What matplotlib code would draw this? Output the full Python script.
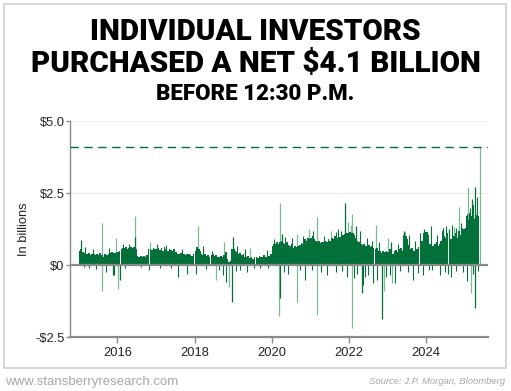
import matplotlib
matplotlib.use("Agg")
import matplotlib.pyplot as plt
import pandas as pd

# ---------------- data (in billions of USD) ----------------
# semi-monthly typical level of net retail purchases before 12:30 p.m.
body_2015 = [0.50, 0.55, 0.45, 0.42, 0.40, 0.38, 0.42, 0.36, 0.40, 0.38, 0.35, 0.40,
             0.37, 0.42, 0.36, 0.30, 0.38, 0.35, 0.40, 0.42, 0.45, 0.44, 0.42, 0.45]
body_2016 = [0.45, 0.50, 0.55, 0.60, 0.58, 0.62, 0.55, 0.60, 0.63, 0.58, 0.62, 0.55,
             0.33, 0.30, 0.32, 0.28, 0.33, 0.30, 0.35, 0.55, 0.57, 0.52, 0.60, 0.55]
body_2017 = [0.55, 0.60, 0.52, 0.58, 0.50, 0.62, 0.55, 0.48, 0.57, 0.52, 0.50, 0.55,
             0.45, 0.40, 0.38, 0.42, 0.36, 0.40, 0.35, 0.38, 0.40, 0.36, 0.33, 0.38]
body_2018 = [0.50, 0.62, 0.55, 0.48, 0.40, 0.35, 0.38, 0.32, 0.36, 0.30, 0.34, 0.38,
             0.32, 0.35, 0.30, 0.28, 0.33, 0.30, 0.35, 0.45, 0.20, 0.10, 0.15, 0.55]
body_2019 = [0.55, 0.50, 0.45, 0.40, 0.42, 0.35, 0.38, 0.30, 0.28, 0.32, 0.25, 0.30,
             0.22, 0.28, 0.30, 0.25, 0.32, 0.28, 0.30, 0.35, 0.30, 0.34, 0.32, 0.38]
body_2020 = [0.65, 0.74, 0.75, 0.80, 0.72, 0.80, 0.85, 0.78, 0.75, 0.80, 0.70, 0.65,
             0.72, 0.60, 0.68, 0.62, 0.66, 0.70, 0.78, 0.72, 0.90, 0.85, 0.95, 0.92]
body_2021 = [0.95, 1.00, 0.90, 0.85, 0.80, 0.85, 0.78, 0.82, 0.80, 0.85, 0.80, 0.90,
             0.85, 0.95, 0.90, 1.00, 0.88, 0.95, 0.98, 1.00, 1.05, 1.08, 1.12, 1.10]
body_2022 = [1.15, 1.10, 1.12, 1.05, 0.95, 0.85, 0.80, 0.72, 0.70, 0.75, 0.65, 0.60,
             0.70, 0.62, 0.65, 0.60, 0.55, 0.58, 0.48, 0.50, 0.42, 0.48, 0.45, 0.50]
body_2023 = [0.45, 0.55, 0.50, 0.40, 0.48, 0.52, 0.45, 0.55, 0.60, 0.50, 1.05, 1.00,
             0.90, 0.70, 0.55, 0.60, 0.50, 0.58, 0.55, 0.62, 0.70, 0.85, 1.10, 1.15]
body_2024 = [1.15, 1.05, 0.75, 0.70, 0.65, 0.72, 0.80, 0.68, 0.75, 0.85, 1.20, 1.00,
             0.95, 1.10, 1.05, 0.90, 1.15, 1.00, 1.10, 0.95, 1.20, 1.05, 1.10, 1.25]
body_2025 = [1.30, 1.70, 1.55, 1.80, 1.70, 2.10, 1.60, 1.75, 1.70]

# individual daily spikes (date, value)
spikes_up_light = [("2015-08-12", 1.46), ("2015-12-20", 0.95), ("2016-06-20", 1.70),
                   ("2018-02-06", 1.36), ("2018-10-08", 0.80), ("2020-03-16", 2.16),
                   ("2020-08-28", 1.08), ("2021-03-08", 1.66), ("2021-07-20", 1.20),
                   ("2022-02-01", 1.77), ("2022-09-12", 1.39), ("2023-06-12", 1.16),
                   ("2024-01-10", 1.20), ("2024-09-24", 1.31), ("2024-11-12", 2.03),
                   ("2025-02-05", 2.72), ("2025-05-27", 4.10), ("2016-11-10", 0.80),
                   ("2019-06-10", 0.60), ("2020-12-20", 1.25), ("2021-12-28", 1.50),
                   ("2022-01-18", 1.40), ("2023-01-10", 0.95)]
spikes_up_dark = [("2015-01-20", 0.88), ("2016-06-18", 0.97), ("2018-12-28", 0.97),
                  ("2020-04-05", 1.08), ("2021-10-20", 1.20), ("2021-11-25", 2.15),
                  ("2022-03-10", 1.37), ("2023-02-01", 0.82), ("2023-06-10", 1.20),
                  ("2023-12-15", 1.25), ("2024-06-14", 1.28), ("2024-08-05", 1.25),
                  ("2024-10-10", 1.30), ("2024-12-10", 1.30), ("2025-01-25", 1.77),
                  ("2025-03-10", 2.28), ("2025-04-08", 2.72)]
# daily highs poking above the typical level
texture_up = [("2015-03-05", 0.62), ("2015-05-20", 0.55), ("2015-10-10", 0.58),
              ("2016-02-20", 0.75), ("2016-04-25", 0.72), ("2017-01-15", 0.72),
              ("2017-04-10", 0.70), ("2017-09-05", 0.55), ("2018-03-20", 0.65),
              ("2018-06-15", 0.50), ("2019-02-10", 0.68), ("2019-04-20", 0.55),
              ("2019-11-15", 0.52), ("2020-01-20", 0.90), ("2020-05-10", 0.98),
              ("2020-07-15", 0.95), ("2020-10-20", 1.00), ("2021-01-25", 1.20),
              ("2021-05-15", 1.00), ("2021-08-30", 1.15), ("2021-09-20", 1.25),
              ("2022-04-15", 1.20), ("2022-06-20", 0.95), ("2022-08-05", 0.85),
              ("2022-10-15", 0.80), ("2023-04-10", 0.75), ("2023-07-20", 1.05),
              ("2023-09-15", 0.85), ("2023-11-01", 1.10), ("2024-02-15", 1.35),
              ("2024-04-15", 1.05), ("2024-07-10", 1.35), ("2024-09-05", 1.40),
              ("2024-11-25", 1.45), ("2025-02-20", 2.00), ("2025-04-25", 2.35)]
spikes_down_light = [("2015-08-12", -0.91), ("2016-01-05", -0.82), ("2018-07-20", -0.51),
                     ("2018-11-25", -0.74), ("2020-03-12", -1.77), ("2020-08-28", -1.26),
                     ("2021-03-08", -1.71), ("2022-01-28", -2.19), ("2022-11-25", -0.91),
                     ("2023-02-15", -0.63), ("2025-02-28", -0.97)]
spikes_down_dark = [("2015-11-20", -0.34), ("2016-01-25", -0.50), ("2018-12-20", -1.26),
                    ("2020-03-20", -1.14), ("2022-05-02", -0.97), ("2022-11-15", -1.88),
                    ("2025-04-10", -1.48)]
small_neg = [("2015-04-10", -0.10), ("2015-06-15", -0.12), ("2015-09-20", -0.23),
             ("2015-12-01", -0.34), ("2016-03-15", -0.08), ("2016-10-30", -0.17),
             ("2017-02-10", -0.10), ("2017-07-30", -0.40), ("2017-10-20", -0.29),
             ("2018-01-15", -0.29), ("2018-04-20", -0.12), ("2018-09-30", -0.34),
             ("2018-10-30", -0.57), ("2019-03-08", -0.17), ("2019-05-08", -0.23),
             ("2019-09-12", -0.11), ("2019-12-01", -0.08), ("2020-06-05", -0.29),
             ("2020-11-10", -0.51), ("2021-01-20", -0.15), ("2021-06-05", -0.34),
             ("2021-09-05", -0.23), ("2021-12-10", -0.40), ("2022-03-15", -0.30),
             ("2022-05-12", -0.69), ("2022-07-01", -0.35), ("2022-09-20", -0.51),
             ("2022-12-20", -0.40), ("2023-03-15", -0.63), ("2023-05-01", -0.20),
             ("2023-09-01", -0.51), ("2023-12-06", -0.34), ("2024-03-01", -0.15),
             ("2024-05-10", -0.34), ("2024-07-26", -0.29), ("2024-10-15", -0.20),
             ("2024-12-20", -0.25), ("2025-01-20", -0.55), ("2025-03-20", -0.30),
             ("2015-02-15", -0.06), ("2016-08-10", -0.07), ("2017-05-20", -0.09),
             ("2018-08-25", -0.15), ("2019-01-25", -0.20), ("2019-07-15", -0.10),
             ("2020-04-25", -0.22), ("2020-09-25", -0.18), ("2021-04-15", -0.25),
             ("2021-10-30", -0.20), ("2022-02-20", -0.45), ("2022-06-05", -0.40),
             ("2022-08-15", -0.60), ("2023-01-25", -0.35), ("2023-07-10", -0.25),
             ("2023-10-15", -0.28), ("2024-01-25", -0.18), ("2024-06-25", -0.22),
             ("2024-08-25", -0.40), ("2025-05-05", -0.20)]

record_value = 4.1
y_ticks = [-2.5, 0, 2.5, 5.0]
y_tick_labels = ["-$2.5", "$0", "$2.5", "$5.0"]
x_tick_years = [2016, 2018, 2020, 2022, 2024]

title_lines = ["INDIVIDUAL INVESTORS", "PURCHASED A NET $4.1 BILLION", "BEFORE 12:30 P.M."]
y_label = "In billions"
footer_left = "www.stansberryresearch.com"
footer_right = "Source: J.P. Morgan, Bloomberg"

# ---------------- styling ----------------
DARK = "#03703a"
LIGHT = "#7db995"
GRAY = "#8a8a8a"
TICKFONT = "Liberation Sans"

body = (body_2015 + body_2016 + body_2017 + body_2018 + body_2019 + body_2020 +
        body_2021 + body_2022 + body_2023 + body_2024 + body_2025)
body_dates = pd.date_range("2015-01-01", periods=len(body), freq="SMS")

fig = plt.figure(figsize=(5.11, 3.91), dpi=100)
ax = fig.add_axes([70 / 511, 1 - 337.3 / 391, (487.7 - 70) / 511, (337.3 - 121) / 391])

for yv in [2.5, 5.0]:
    ax.axhline(yv, color="#ececec", lw=0.9, zorder=0)

ax.bar(body_dates, body, width=16, align="edge", color=DARK, linewidth=0, zorder=2)


def spikes(lst, color, lw, z):
    d = pd.to_datetime([s[0] for s in lst])
    v = [s[1] for s in lst]
    ax.vlines(d, 0, v, color=color, lw=lw, zorder=z)


spikes(small_neg, DARK, 0.8, 2)
spikes(texture_up, DARK, 0.8, 2)
spikes(spikes_up_light, LIGHT, 0.9, 1.5)
spikes(spikes_down_light, LIGHT, 0.9, 1.5)
spikes(spikes_up_dark, DARK, 0.9, 2.5)
spikes(spikes_down_dark, DARK, 0.9, 2.5)

ax.axhline(record_value, color=DARK, lw=1.0, ls=(0, (6, 4)), zorder=3)
ax.axhline(0, color=GRAY, lw=1.6, zorder=4)

ax.set_ylim(-2.5, 5.0)
ax.set_xlim(pd.Timestamp("2014-10-10"), pd.Timestamp("2025-08-07"))
ax.set_yticks(y_ticks)
ax.set_yticklabels(y_tick_labels, fontfamily=TICKFONT, fontsize=9.3, color="#222222")
ax.set_xticks([pd.Timestamp(f"{y}-01-01") for y in x_tick_years])
ax.set_xticklabels([str(y) for y in x_tick_years], fontfamily=TICKFONT, fontsize=9.3,
                   color="#222222")
ax.tick_params(axis="y", length=3, width=1, color=GRAY, pad=1)
ax.tick_params(axis="x", length=4, width=1, color=GRAY, pad=3)
for s in ["top", "right"]:
    ax.spines[s].set_visible(False)
ax.spines["left"].set_color(GRAY)
ax.spines["left"].set_linewidth(1.0)
ax.spines["bottom"].set_color(GRAY)
ax.spines["bottom"].set_linewidth(1.6)
ax.set_ylabel(y_label, fontfamily=TICKFONT, fontsize=9.3, color="#222222", labelpad=4)

# titles
TFONT = ["Roboto", "DejaVu Sans"]
fig.text(0.5, 1 - 40 / 391, title_lines[0], ha="center", va="baseline",
         fontfamily=TFONT, fontweight="black", fontsize=21.3)
fig.text(0.5, 1 - 72 / 391, title_lines[1], ha="center", va="baseline",
         fontfamily=TFONT, fontweight="black", fontsize=21.3)
fig.text(0.5, 1 - 99.5 / 391, title_lines[2], ha="center", va="baseline",
         fontfamily=TFONT, fontweight="black", fontsize=16)

# footer
fig.text(5 / 511, 1 - 382 / 391, footer_left, ha="left", va="center",
         fontfamily=TICKFONT, fontsize=9.5, color="#a8a8a8")
fig.text(505 / 511, 1 - 382 / 391, footer_right, ha="right", va="center",
         fontfamily=TICKFONT, fontsize=6.8, style="italic", color="#a8a8a8")

# frame
fig.add_artist(plt.Rectangle((4 / 511, 1 - 367.5 / 391), 502 / 511, 363.5 / 391,
                             transform=fig.transFigure, fill=False,
                             edgecolor="#cfcfcf", lw=1.2))

fig.savefig("out.png", dpi=100, facecolor="white")
